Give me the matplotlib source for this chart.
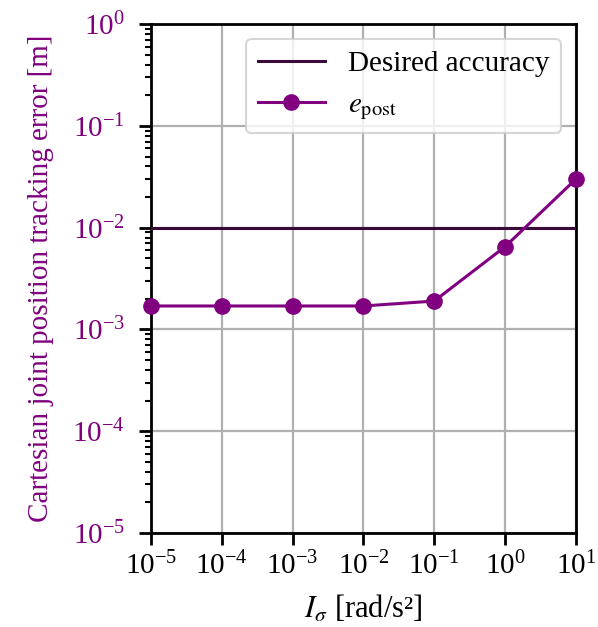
import numpy as np
import matplotlib
matplotlib.use("Agg")
import matplotlib.pyplot as plt
from matplotlib.ticker import LogLocator, NullLocator

plt.rcParams['font.family'] = ['Liberation Serif', 'DejaVu Serif']
plt.rcParams['mathtext.fontset'] = 'stix'

# data
i_sigma = [1e-5, 1e-4, 1e-3, 1e-2, 1e-1, 1e0, 1e1]
e_post = [1.7e-3, 1.7e-3, 1.7e-3, 1.7e-3, 1.9e-3, 6.5e-3, 3.0e-2]
desired_accuracy = 1e-2

PURPLE = '#800080'
DARK_PURPLE = '#3a0a3a'

fig = plt.figure(figsize=(5.98, 6.27), dpi=100)
ax = fig.add_axes((0.2525, 0.150, 0.7105, 0.8115))

ax.axhline(desired_accuracy, color=DARK_PURPLE, lw=2.2, label='Desired accuracy', zorder=3)
ax.plot(i_sigma, e_post, color=PURPLE, lw=2.2, marker='o', ms=11,
        label=r'$e_{\mathrm{post}}$', zorder=4, clip_on=False)

ax.set_xscale('log')
ax.set_yscale('log')
ax.set_xlim(1e-5, 1e1)
ax.set_ylim(1e-5, 1e0)
ax.xaxis.set_major_locator(LogLocator(base=10, numticks=20))
ax.xaxis.set_minor_locator(NullLocator())
ax.yaxis.set_major_locator(LogLocator(base=10, numticks=20))
ax.yaxis.set_minor_locator(LogLocator(base=10, subs=np.arange(2, 10), numticks=20))

ax.grid(True, which='major', color='#b0b0b0', lw=1.6)
ax.set_axisbelow(True)

for s in ax.spines.values():
    s.set_linewidth(2)
ax.tick_params(which='major', length=8.8, width=2, labelsize=21)
ax.tick_params(which='minor', length=4.5, width=1.5)
ax.tick_params(axis='x', pad=5)
ax.tick_params(axis='y', labelcolor=PURPLE, pad=10)

ax.set_xlabel(r'$I_\sigma$ [rad/s²]', fontsize=22, labelpad=9)
ax.set_ylabel('Cartesian joint position tracking error [m]', fontsize=21,
              color=PURPLE, labelpad=13)

leg = ax.legend(loc='upper right', fontsize=21, framealpha=0.8,
                borderaxespad=0.5, handlelength=2.3, borderpad=0.4)
leg.get_frame().set_linewidth(1.5)

fig.savefig('out.png', dpi=100)
